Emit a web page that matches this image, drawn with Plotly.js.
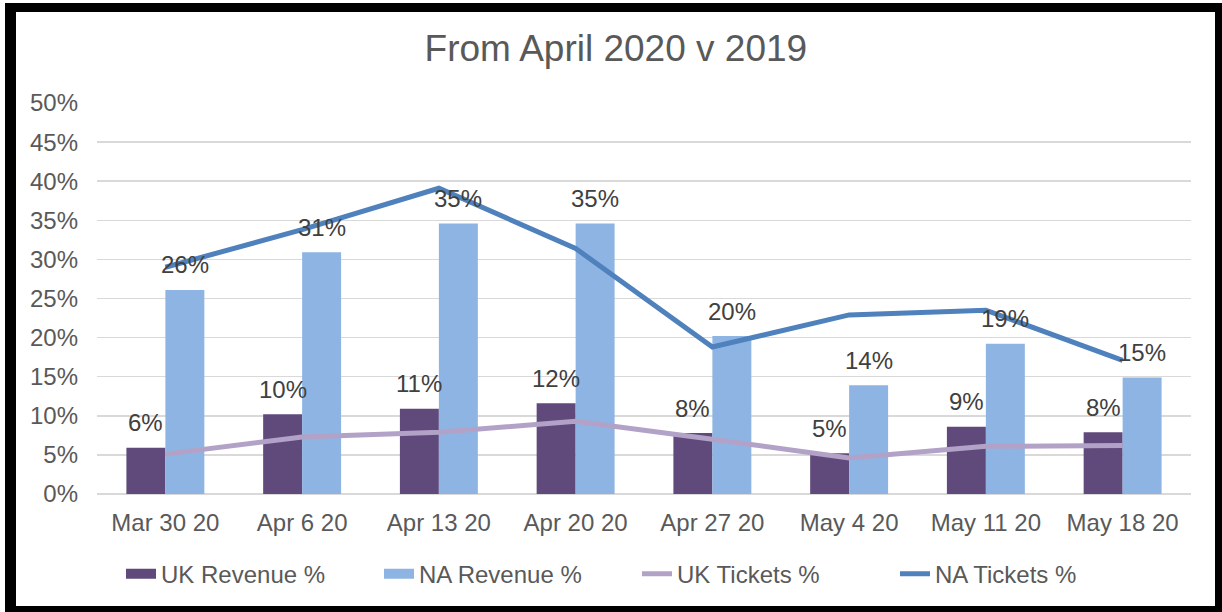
<!DOCTYPE html>
<html>
<head>
<meta charset="utf-8">
<script src="https://cdn.plot.ly/plotly-3.0.1.min.js"></script>
<style>
    body { margin: 0; background: #fff; }
    #chartDiv { width: 1222px; height: 612px; }
    #frame {
        position: absolute; left: 5px; top: 3px; width: 1217px; height: 609px;
        box-sizing: border-box; border-style: solid; border-color: #000;
        border-width: 9px 7px 6px 11px; pointer-events: none;
    }
</style>
</head>
<body>
<div id="chartDiv"></div>
<div id="frame"></div>
<script>
// week labels on the x axis
var weeks = ['Mar 30 20', 'Apr 6 20', 'Apr 13 20', 'Apr 20 20', 'Apr 27 20', 'May 4 20', 'May 11 20', 'May 18 20'];
// values, as fractions of 2019
var ukRevenue = [0.059, 0.102, 0.109, 0.116, 0.078, 0.052, 0.086, 0.079];
var naRevenue = [0.261, 0.309, 0.346, 0.346, 0.202, 0.139, 0.192, 0.149];
var ukTickets = [0.051, 0.073, 0.079, 0.093, 0.070, 0.046, 0.061, 0.062];
var naTickets = [0.290, 0.338, 0.391, 0.314, 0.188, 0.229, 0.235, 0.171];

var fontName = 'Liberation Sans, Arial, sans-serif';
var colUkRev = '#604a7b', colNaRev = '#8eb4e3';
var colUkTix = '#b3a2c7', colNaTix = '#4f81bd';

var data = []; // traces get pushed in below
data.push({
    x: weeks, y: ukRevenue, type: 'bar', name: 'UK Revenue %', showlegend: false,
    marker: {color: colUkRev}, hoverinfo: 'skip'
});
data.push({
    x: weeks, y: naRevenue, type: 'bar', name: 'NA Revenue %', showlegend: false,
    marker: {color: colNaRev}, hoverinfo: 'skip'
});
// legend only entries so the bar swatches come out as wide blocks
function legendBlock(name, color) {
    var ys = [];
    for (var i = 0; i < weeks.length; i++) ys.push(null);
    data.push({
        x: weeks, y: ys, type: 'scatter', mode: 'lines', name: name,
        line: {color: color, width: 12}, hoverinfo: 'skip'
    });
}
legendBlock('UK Revenue %', colUkRev);
legendBlock('NA Revenue %', colNaRev);
data.push({
    x: weeks, y: ukTickets, type: 'scatter', mode: 'lines', name: 'UK Tickets %',
    line: {color: colUkTix, width: 5}, hoverinfo: 'skip'
});
data.push({
    x: weeks, y: naTickets, type: 'scatter', mode: 'lines', name: 'NA Tickets %',
    line: {color: colNaTix, width: 5}, hoverinfo: 'skip'
});

// data labels sit a little above each bar
var labels = [];
function addLabels(values, shift) {
    for (var i = 0; i < values.length; i++) {
        labels.push({
            x: i + shift, y: values[i], xref: 'x', yref: 'y',
            text: Math.round(values[i] * 100) + '%',
            showarrow: false, yanchor: 'middle', yshift: 25,
            font: {family: fontName, size: 24, color: '#404040'}
        });
    }
}
addLabels(ukRevenue, -0.143);
addLabels(naRevenue, 0.143);

var layout = {
    width: 1222, height: 612,
    margin: {l: 97, r: 31, t: 103, b: 118},
    paper_bgcolor: '#fff', plot_bgcolor: '#fff',
    font: {family: fontName, color: '#595959'},
    title: {
        text: 'From April 2020 v 2019',
        x: 0.504, xanchor: 'center', y: 0.921, yanchor: 'middle',
        font: {family: fontName, size: 37, color: '#595959'}
    },
    barmode: 'group', bargap: 0.43, bargroupgap: 0,
    xaxis: {
        type: 'category', showgrid: false, showline: false, ticks: '',
        tickfont: {size: 24, color: '#595959'}, ticklabelstandoff: 12
    },
    yaxis: {
        range: [0, 0.5], dtick: 0.05, tickformat: '.0%',
        showgrid: true, gridcolor: '#d9d9d9', gridwidth: 1.5,
        zeroline: true, zerolinecolor: '#d9d9d9', zerolinewidth: 1.5,
        ticks: '', tickfont: {size: 24, color: '#595959'}, ticklabelstandoff: 18
    },
    showlegend: true,
    legend: {
        orientation: 'h', x: 0.4936, xanchor: 'center', y: -0.205, yanchor: 'middle',
        font: {family: fontName, size: 24, color: '#595959'},
        traceorder: 'normal', entrywidth: 213, entrywidthmode: 'pixels'
    },
    annotations: labels
};

Plotly.newPlot('chartDiv', data, layout, {displayModeBar: false, staticPlot: true});
</script>
</body>
</html>
